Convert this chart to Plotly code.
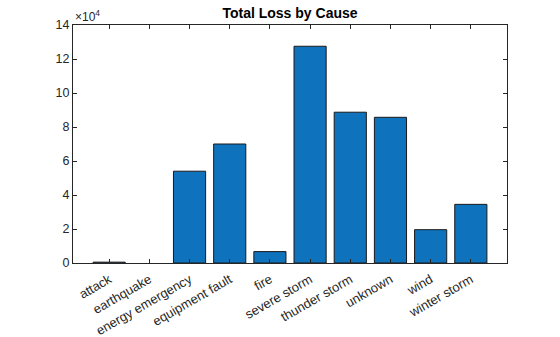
import plotly.graph_objects as go

causes = ["attack", "earthquake", "energy emergency", "equipment fault", "fire",
          "severe storm", "thunder storm", "unknown", "wind", "winter storm"]
total_loss = [500, 0, 54000, 70000, 6700, 127500, 88700, 85700, 19600, 34500]
ytick_vals = [0, 20000, 40000, 60000, 80000, 100000, 120000, 140000]
ytick_text = ["0", "2", "4", "6", "8", "10", "12", "14"]

xpos = list(range(1, len(causes) + 1))
axis_col = "#262626"
font = "Liberation Sans, Arial, Helvetica, sans-serif"
edge_widths = [1 if v > 0 else 0 for v in total_loss]

fig = go.Figure()
fig.add_trace(go.Bar(
    x=xpos, y=total_loss, width=0.8,
    marker=dict(color="#0F72BD", line=dict(color="#1a1a1a", width=edge_widths)),
))

fig.update_layout(
    width=560, height=337,
    margin=dict(l=73, r=53, t=25, b=74),
    plot_bgcolor="white", paper_bgcolor="white",
    showlegend=False,
    font=dict(family=font, size=12, color=axis_col),
    title=dict(text="<b>Total Loss by Cause</b>", x=(73 + 507) / 2 / 560, xanchor="center",
               y=1 - 13 / 337, yanchor="middle", font=dict(size=14, color="black")),
    annotations=[dict(text="×10<sup>4</sup>", xref="paper", yref="paper", x=0, y=1,
                      xanchor="left", yanchor="bottom", showarrow=False,
                      font=dict(size=12, color=axis_col), yshift=-1)],
)
fig.update_xaxes(
    range=[0.1, 10.9], tickvals=xpos, ticktext=causes, tickangle=-30,
    tickfont=dict(size=13),
    showline=True, linecolor=axis_col, linewidth=1, mirror="ticks",
    ticks="inside", ticklen=4, tickcolor=axis_col, showgrid=False, zeroline=False,
    automargin=False, ticklabelstandoff=3,
)
fig.update_yaxes(
    range=[0, 140000], tickvals=ytick_vals, ticktext=ytick_text,
    tickfont=dict(size=12.5),
    showline=True, linecolor=axis_col, linewidth=1, mirror="ticks",
    ticks="inside", ticklen=4, tickcolor=axis_col, showgrid=False, zeroline=False,
    automargin=False,
)

fig.write_html("out.html")
